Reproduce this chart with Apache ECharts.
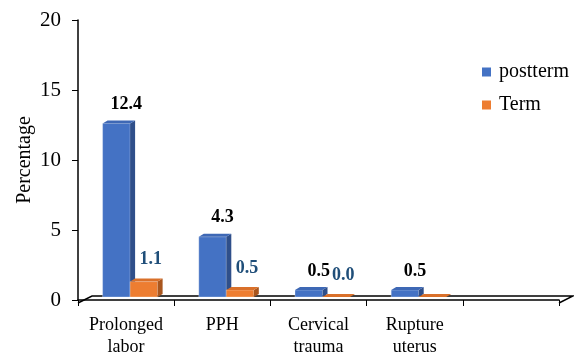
<!DOCTYPE html>
<html>
<head>
<meta charset="utf-8">
<script src="https://cdn.jsdelivr.net/npm/echarts@6/dist/echarts.min.js"></script>
<style>
  html, body { margin: 0; padding: 0; background: #fff; }
  #chart { width: 574px; height: 358px; }
</style>
</head>
<body>
<div id="chart"></div>
<script>
const categories = ['Prolonged\nlabor', 'PPH', 'Cervical\ntrauma', 'Rupture\nuterus', ''];
const postterm = [12.4, 4.3, 0.5, 0.5];
const term = [1.1, 0.5, 0.0, 0.0];
const posttermLabels = ['12.4', '4.3', '0.5', '0.5'];
const termLabels = ['1.1', '0.5', '0.0', ''];
const yTicks = { min: 0, max: 20, interval: 5 };

const font = 'Liberation Serif';
const grid = { left: 78, right: 15, top: 20, bottom: 55 };

// draws one 3d-ish bar: front, right side, top + label
function bar3d(side, colors, labels, labelColor, labelDx, labelDy) {
  return function (params, api) {
    const idx = api.value(0);
    const v = api.value(1);
    const top = api.coord([idx, v]);
    const base = api.coord([idx, 0]);
    const band = api.size([1, 0])[0];
    const w = band * 0.286;
    const x0 = base[0] + 4 + (side === 'left' ? -w : 0);
    const yb = base[1] - 3;
    const yt = top[1] - 3;
    const dx = 5, dy = 3;
    const children = [
      { type: 'rect', shape: { x: x0, y: yt, width: w, height: yb - yt },
        style: { fill: colors[0], stroke: 'rgba(255,255,255,0.5)', lineWidth: 0.6 } },
      { type: 'polygon', shape: { points: [[x0 + w, yt], [x0 + w + dx, yt - dy], [x0 + w + dx, yb - dy], [x0 + w, yb]] },
        style: { fill: colors[1] } },
      { type: 'polygon', shape: { points: [[x0, yt], [x0 + dx, yt - dy], [x0 + w + dx, yt - dy], [x0 + w, yt]] },
        style: { fill: colors[2] } }
    ];
    if (labels[idx]) {
      children.push({
        type: 'text',
        style: {
          text: labels[idx], x: x0 + w / 2 + labelDx, y: yt + labelDy,
          align: 'center', verticalAlign: 'middle',
          font: 'bold 18px ' + font, fill: labelColor
        }
      });
    }
    return { type: 'group', children: children };
  };
}

const chart = echarts.init(document.getElementById('chart'));

const floorDx = 14, floorDy = 7;
const x0 = grid.left, x1 = 574 - grid.right, yF = 358 - grid.bottom;

chart.setOption({
  animation: false,
  backgroundColor: '#fff',
  grid: grid,
  legend: {
    orient: 'vertical',
    left: 477,
    top: 57,
    itemWidth: 9,
    itemHeight: 9,
    itemGap: 13,
    icon: 'rect',
    textStyle: { fontFamily: font, fontSize: 20, color: '#000', padding: [0, 0, 0, 3] },
    data: ['postterm', 'Term']
  },
  graphic: [
    {
      type: 'polyline', z: 0,
      shape: { points: [[x0, yF], [x0 + floorDx, yF - floorDy], [x1 + floorDx, yF - floorDy], [x1, yF]] },
      style: { stroke: '#000', lineWidth: 1.5, fill: 'none' }
    }
  ],
  xAxis: {
    type: 'category',
    data: categories,
    axisLine: { lineStyle: { color: '#000', width: 1.5 } },
    axisTick: { show: true, length: 6, lineStyle: { color: '#000' } },
    axisLabel: { fontFamily: font, fontSize: 18, color: '#000', margin: 14, lineHeight: 22, interval: 0 }
  },
  yAxis: {
    type: 'value',
    min: yTicks.min,
    max: yTicks.max,
    interval: yTicks.interval,
    name: 'Percentage',
    nameLocation: 'middle',
    nameGap: 43,
    nameMoveOverlap: false,
    nameTextStyle: { fontFamily: font, fontSize: 20, color: '#000' },
    splitLine: { show: false },
    axisLine: { show: true, lineStyle: { color: '#000', width: 1.5 } },
    axisTick: { show: true, length: 6, lineStyle: { color: '#000' } },
    axisLabel: { fontFamily: font, fontSize: 21, color: '#000', margin: 17 }
  },
  series: [
    {
      name: 'postterm',
      type: 'custom',
      itemStyle: { color: '#4472C4' },
      encode: { x: 0, y: 1 },
      data: postterm.map((v, i) => [i, v]),
      renderItem: bar3d('left', ['#4472C4', '#2F4F8A', '#3E68B5'], posttermLabels, '#000', 10, -19),
      z: 2
    },
    {
      name: 'Term',
      type: 'custom',
      itemStyle: { color: '#ED7D31' },
      encode: { x: 0, y: 1 },
      data: term.map((v, i) => [i, v]),
      renderItem: bar3d('right', ['#ED7D31', '#A9561E', '#D9702A'], termLabels, '#1F4E79', 7, -22),
      z: 3
    }
  ]
});
</script>
</body>
</html>
